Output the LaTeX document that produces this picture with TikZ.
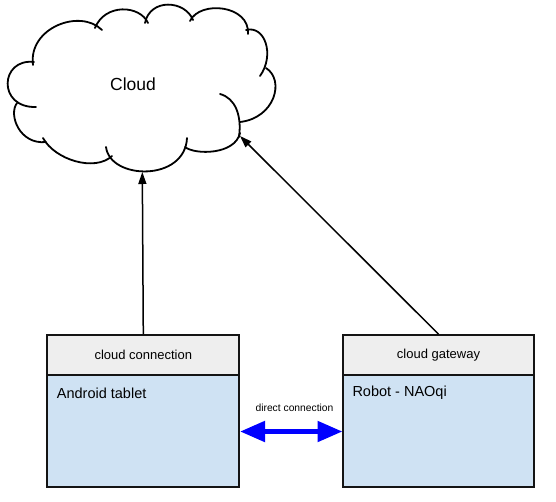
\documentclass[tikz,border=0pt]{standalone}
\usepackage{fontspec}
\setmainfont{Liberation Sans}
\usetikzlibrary{arrows.meta}
\definecolor{hdrfill}{RGB}{238,238,238}
\definecolor{bodyfill}{RGB}{207,226,243}
\definecolor{edge}{RGB}{20,20,20}
\definecolor{linkblue}{RGB}{0,0,255}
\tikzset{
  hdr/.style={draw=edge, line width=1.7pt, fill=hdrfill, minimum width=192pt, minimum height=40pt, inner sep=0pt, font=\fontsize{13}{15}\selectfont},
  bodybox/.style={draw=edge, line width=1.7pt, fill=bodyfill, minimum width=192pt, minimum height=112pt, inner sep=0pt},
  bodytext/.style={anchor=base west, inner sep=0pt, font=\fontsize{14.5}{16}\selectfont},
  bump/.style={line width=1.8pt, line cap=round},
  arr/.style={line width=1.5pt, -{Triangle[length=12pt,width=8pt]}},
  duplex/.style={draw=linkblue, line width=5pt, {Triangle[length=25pt,width=20pt]}-{Triangle[length=25pt,width=20pt]}}
}
\begin{document}
\begin{tikzpicture}[x=1pt,y=-1pt]
\useasboundingbox (0,0) rectangle (556,501);
% cloud outline
\draw[bump] (33,65) .. controls (28,28) and (80,8) .. (102,30);
\draw[bump] (34,62) .. controls (0,58) and (-3,108) .. (36,107);
\draw[bump] (17,103) .. controls (8,115) and (20,145) .. (46,142);
\draw[bump] (43,138) .. controls (55,160) and (95,172) .. (112,156);
\draw[bump] (106,147) .. controls (110,180) and (185,182) .. (187,138);
\draw[bump] (185,147) .. controls (195,155) and (235,155) .. (240,133);
\draw[bump] (220,94) .. controls (235,98) and (242,115) .. (239,137);
\draw[bump] (240,122) .. controls (275,118) and (285,80) .. (266,68);
\draw[bump] (260,76) .. controls (275,55) and (265,25) .. (246,30);
\draw[bump] (248,34) .. controls (250,5) and (200,0) .. (190,21);
\draw[bump] (193,20) .. controls (185,0) and (150,-2) .. (145,23);
\draw[bump] (148,23) .. controls (140,5) and (105,3) .. (95,28);
\node[font=\fontsize{17.5}{20}\selectfont, inner sep=0pt] (cloud) at (133,84) {Cloud};
\coordinate (cloudA) at (142.3,172);
\coordinate (cloudB) at (240,136);
% boxes
\node[bodybox] (lb) at (143.3,431) {};
\node[hdr] (lh) at (143.3,355) {cloud connection};
\node[bodybox, minimum width=191.6pt, minimum height=111.7pt] (rb) at (438.5,430.85) {};
\node[hdr, minimum width=191.6pt] (rh) at (438.5,355) {cloud gateway};
\node[bodytext] (lbt) at (56.7,398) {Android tablet};
\node[bodytext] (rbt) at (352.3,396.7) {Robot - NAOqi};
% connectors
\draw[arr] (lh.north) -- (cloudA);
\draw[arr] (rh.north) -- (cloudB);
\coordinate (dl) at (240,431.5);
\coordinate (dr) at (342.5,431.5);
\draw[duplex] (dl) -- (dr);
\node[font=\fontsize{10.3}{12}\selectfont, inner sep=0pt] (dlabel) at (294.5,407.5) {direct connection};
\end{tikzpicture}
\end{document}
